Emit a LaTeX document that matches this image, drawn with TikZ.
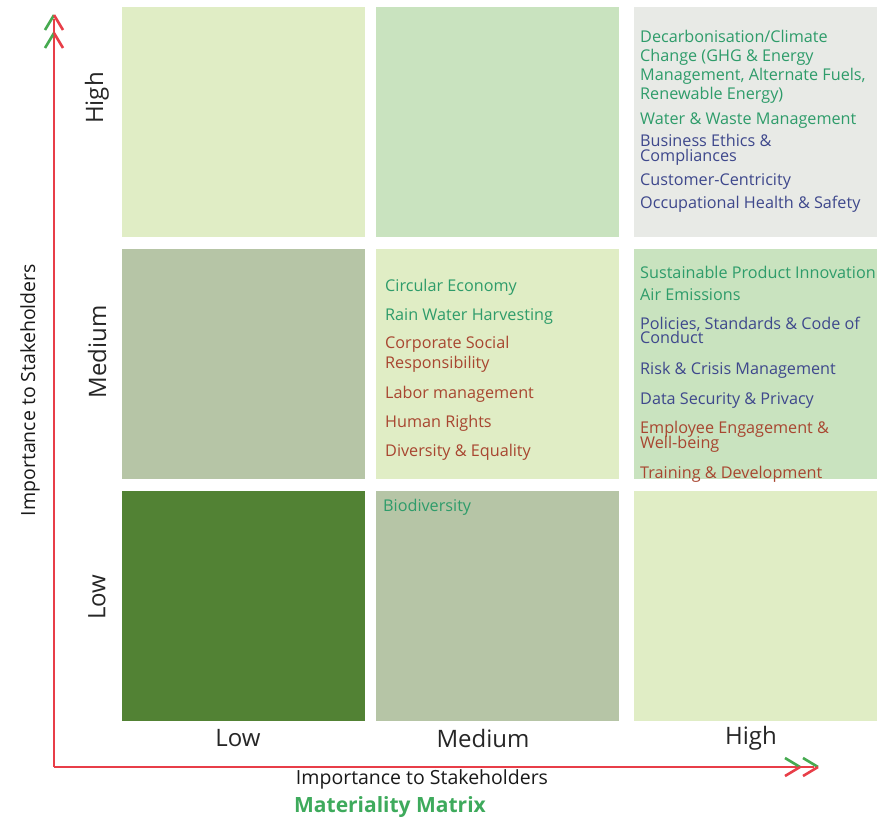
\documentclass[tikz,border=0pt]{standalone}
\usepackage{fontspec}
\setmainfont{Open Sans}
\usetikzlibrary{positioning}

\definecolor{cellpale}{RGB}{224,237,197}
\definecolor{cellmint}{RGB}{201,227,191}
\definecolor{cellgrey}{RGB}{232,234,230}
\definecolor{cellsage}{RGB}{182,197,166}
\definecolor{celldark}{RGB}{82,130,52}
\definecolor{txtgreen}{RGB}{46,156,106}
\definecolor{txtblue}{RGB}{62,72,140}
\definecolor{txtred}{RGB}{168,70,48}
\definecolor{axisred}{RGB}{232,62,72}
\definecolor{axisgreen}{RGB}{70,170,80}
\definecolor{titlegreen}{RGB}{62,170,92}

% topic font with a fixed distance between lines
\newcommand{\topicfont}[1]{\fontsize{16.2}{#1}\selectfont\lineskiplimit=-20pt\lineskip=0pt}

\tikzset{
  cell/.style={anchor=north west, minimum width=243, minimum height=230, inner sep=0, draw=none},
  topic/.style={anchor=base west, inner sep=0, align=left, font=\topicfont{15}},
  level/.style={font=\fontsize{24}{24}\selectfont, text=black!85, inner sep=0},
  axistitle/.style={font=\fontsize{19.5}{19.5}\selectfont, text=black!90, inner sep=0},
  chev/.style={line width=2.6pt}
}

\begin{document}
\begin{tikzpicture}[x=1pt,y=-1pt]
\useasboundingbox (0,0) rectangle (877,820);
\clip (0,0) rectangle (877,820);
% matrix cells
\node[cell, fill=cellpale] (hiLo)  at (122,7) {};
\node[cell, fill=cellmint] (hiMed) at (376,7) {};
\node[cell, fill=cellgrey, minimum width=250] (hiHi)  at (634,7) {};
\node[cell, fill=cellsage] (mdLo)  at (122,249) {};
\node[cell, fill=cellpale] (mdMed) at (376,249) {};
\node[cell, fill=cellmint, minimum width=250] (mdHi)  at (634,249) {};
\node[cell, fill=celldark] (loLo)  at (122,491) {};
\node[cell, fill=cellsage] (loMed) at (376,491) {};
\node[cell, fill=cellpale, minimum width=250] (loHi)  at (634,491) {};

% high / high (multi-line texts sit on their last baseline)
\node[topic, text=txtgreen, font=\topicfont{18.8}] (decarb) at (640,99)
  {Decarbonisation/Climate\\Change (GHG \& Energy\\Management, Alternate Fuels,\\Renewable Energy)};
\node[topic, text=txtgreen] (water) at (640,124) {Water \& Waste Management};
\node[topic, text=txtblue] (ethics) at (640,161.5) {Business Ethics \&\\Compliances};
\node[topic, text=txtblue] (customer) at (640,185) {Customer-Centricity};
\node[topic, text=txtblue] (ohs) at (640,208) {Occupational Health \& Safety};

% medium / high
\node[topic, text=txtgreen] (product) at (640,278) {Sustainable Product Innovation};
\node[topic, text=txtgreen] (air) at (640,300) {Air Emissions};
\node[topic, text=txtblue, font=\topicfont{14}] (policies) at (640,343.5) {Policies, Standards \& Code of\\Conduct};
\node[topic, text=txtblue] (risk) at (640,374) {Risk \& Crisis Management};
\node[topic, text=txtblue] (datasec) at (640,404) {Data Security \& Privacy};
\node[topic, text=txtred, font=\topicfont{14.5}] (employee) at (640,448) {Employee Engagement \&\\Well-being};
\node[topic, text=txtred] (training) at (640,478) {Training \& Development};

% medium / medium
\node[topic, text=txtgreen] (circular) at (385,291) {Circular Economy};
\node[topic, text=txtgreen] (rain) at (385,320) {Rain Water Harvesting};
\node[topic, text=txtred, font=\topicfont{19.5}] (csr) at (385,368) {Corporate Social\\Responsibility};
\node[topic, text=txtred] (labor) at (385,398) {Labor management};
\node[topic, text=txtred] (rights) at (385,427) {Human Rights};
\node[topic, text=txtred] (diversity) at (385,456) {Diversity \& Equality};

% low / medium
\node[topic, text=txtgreen] (biodiv) at (383,511) {Biodiversity};

% level labels
\node[level, rotate=90] (yHigh) at (97,98) {High};
\node[level, rotate=90] (yMed) at (97,352) {Medium};
\node[level, rotate=90] (yLow) at (97,597) {Low};
\node[level] (xLow) at (238,738) {Low};
\node[level] (xMed) at (483,738) {Medium};
\node[level] (xHigh) at (751,738) {High};

% axes
\coordinate (origin) at (54,767);
\coordinate (ytip) at (54,15);
\coordinate (xtip) at (818,767);
\draw[axisred, line width=1.3pt] (origin) -- ([yshift=-4]ytip);
\draw[axisred, line width=1.3pt] (origin) -- ([xshift=-4]xtip);
\foreach \d in {0,18}{
  \draw[chev, axisgreen] ([xshift=-9, yshift=-15-\d]ytip) -- ([yshift=-\d]ytip);
  \draw[chev, axisred] ([yshift=-\d]ytip) -- ([xshift=9, yshift=-15-\d]ytip);
  \draw[chev, axisgreen] ([xshift=-15-\d, yshift=9]xtip) -- ([xshift=-\d]xtip);
  \draw[chev, axisred] ([xshift=-\d]xtip) -- ([xshift=-15-\d, yshift=-9]xtip);
}
\node[axistitle, rotate=90] (ytitle) at (30,390) {Importance to Stakeholders};
\node[axistitle] (xtitle) at (422,779) {Importance to Stakeholders};
\node[font=\bfseries\fontsize{21}{21}\selectfont, text=titlegreen, inner sep=0] (title) at (390,807) {Materiality Matrix};
\end{tikzpicture}
\end{document}
